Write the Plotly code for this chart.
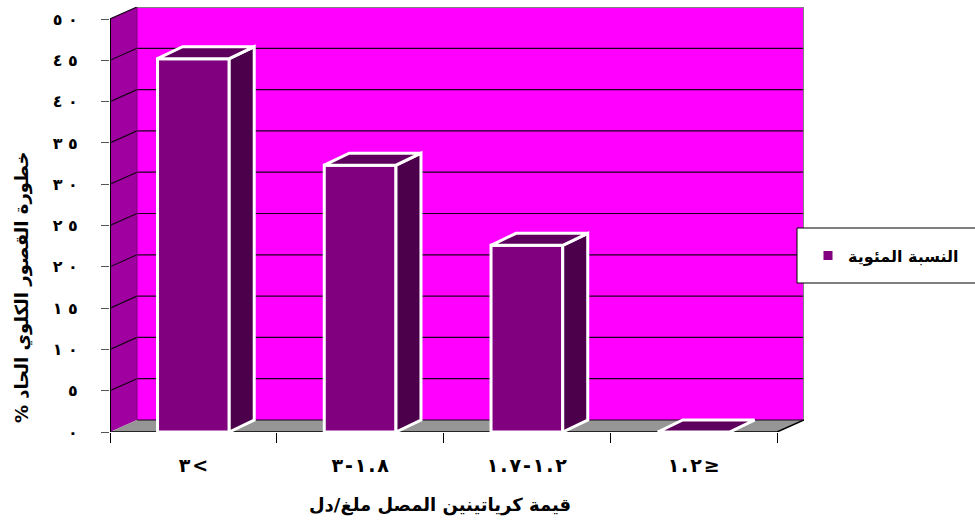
import plotly.graph_objects as go

# ---------------- data ----------------
categories = ["٣<", "٣-١.٨", "١.٧-١.٢", "١.٢≥"]
values = [45.2, 32.3, 22.6, 0.0]
y_ticks = [0, 5, 10, 15, 20, 25, 30, 35, 40, 45, 50]
y_tick_labels = ["٠", "٥", "١٠", "١٥", "٢٠", "٢٥", "٣٠", "٣٥", "٤٠", "٤٥", "٥٠"]
series_name = "النسبة المئوية"
x_title = "قيمة كرياتينين المصل ملغ/دل"
y_title = "% خطورة القصور الكلوي الحاد"


def visual(s, gap):
    # keep left-to-right visual order as in the reference, with a little letter spacing
    return "\u202d" + gap.join(list(s)) + "\u202c"


# ---------------- geometry / style ----------------
W, H = 975, 530
ML, MT = 110, 7
PX_CAT = 166.75          # pixels per category
PX_UNIT = 8.26           # pixels per y unit
DEPTH_PX = (27, 12)      # oblique depth of walls
BAR_DEPTH_PX = (25, 12)
n = len(categories)
plot_w = n * PX_CAT + DEPTH_PX[0]
plot_h = y_ticks[-1] * PX_UNIT + DEPTH_PX[1]
MR = W - ML - plot_w
MB = H - MT - plot_h

x0, x1 = -0.5, n - 0.5
ytop = y_ticks[-1]
DX = DEPTH_PX[0] / PX_CAT
DY = DEPTH_PX[1] / PX_UNIT
BDX = BAR_DEPTH_PX[0] / PX_CAT
BDY = BAR_DEPTH_PX[1] / PX_UNIT
BAR_W = 0.43

FONT = "DejaVu Sans"
BACK = "#FF00FF"
SIDEWALL = "#A000A0"
FLOOR = "#969696"
BAR_FRONT = "#800080"
BAR_SIDE = "#4C004C"
BAR_TOP = "#5E005E"


def poly(pts):
    return "M " + " L ".join(f"{x},{y}" for x, y in pts) + " Z"


shapes = []
# back wall
shapes.append(dict(type="rect", xref="x", yref="y", x0=x0 + DX, x1=x1 + DX, y0=DY, y1=ytop + DY,
                   fillcolor=BACK, line=dict(width=0), layer="below"))
# left wall
shapes.append(dict(type="path", xref="x", yref="y",
                   path=poly([(x0, 0), (x0, ytop), (x0 + DX, ytop + DY), (x0 + DX, DY)]),
                   fillcolor=SIDEWALL, line=dict(width=0), layer="below"))
# floor
shapes.append(dict(type="path", xref="x", yref="y",
                   path=poly([(x0, 0), (x1, 0), (x1 + DX, DY), (x0 + DX, DY)]),
                   fillcolor=FLOOR, line=dict(width=0), layer="below"))
# gridlines on back wall and left wall
for v in y_ticks:
    col = "#808080" if v == ytop else "#1a001a"
    wid = 2 if v == ytop else 1.2
    shapes.append(dict(type="line", xref="x", yref="y", x0=x0 + DX, x1=x1 + DX, y0=v + DY, y1=v + DY,
                       line=dict(color=col, width=wid), layer="below"))
    if v > 0:
        shapes.append(dict(type="line", xref="x", yref="y", x0=x0, x1=x0 + DX, y0=v, y1=v + DY,
                           line=dict(color="#1a001a", width=1.2), layer="below"))
# back wall right edge and left-back edge
shapes.append(dict(type="line", xref="x", yref="y", x0=x1 + DX, x1=x1 + DX, y0=DY, y1=ytop + DY,
                   line=dict(color="#808080", width=2), layer="below"))
shapes.append(dict(type="line", xref="x", yref="y", x0=x0 + DX, x1=x0 + DX, y0=DY, y1=ytop + DY,
                   line=dict(color="#7a007a", width=1), layer="below"))
# floor front and right edges
shapes.append(dict(type="path", xref="x", yref="y",
                   path="M %s,0 L %s,0 L %s,%s" % (x0, x1, x1 + DX, DY),
                   line=dict(color="#000000", width=1.5), layer="below"))
# value axis line
shapes.append(dict(type="line", xref="x", yref="y", x0=x0, x1=x0, y0=0, y1=ytop,
                   line=dict(color="#000000", width=2), layer="below"))

# legend box
lg_left, lg_top, lg_bot = 797, 228, 283
shapes.append(dict(type="rect", xref="paper", yref="paper",
                   x0=(lg_left - ML) / plot_w, x1=(W + 10 - ML) / plot_w,
                   y0=(MT + plot_h - lg_bot) / plot_h, y1=(MT + plot_h - lg_top) / plot_h,
                   fillcolor="white", line=dict(color="#000000", width=1), layer="above"))

fig = go.Figure()

# bar front faces
xs = list(range(n))
fig.add_trace(go.Bar(x=xs, y=values, width=BAR_W, name=series_name,
                     marker=dict(color=BAR_FRONT, line=dict(color="white", width=3)),
                     showlegend=True, hoverinfo="skip"))

# side and top faces computed from the values
side_x, side_y, top_x, top_y = [], [], [], []
for i, v in zip(xs, values):
    r = i + BAR_W / 2
    l = i - BAR_W / 2
    side_x += [r, r, r + BDX, r + BDX, r, None]
    side_y += [0, v, v + BDY, BDY, 0, None]
    top_x += [l, r, r + BDX, l + BDX, l, None]
    top_y += [v, v, v + BDY, v + BDY, v, None]

fig.add_trace(go.Scatter(x=side_x, y=side_y, mode="lines", fill="toself", fillcolor=BAR_SIDE,
                         line=dict(color="white", width=3), showlegend=False, hoverinfo="skip"))
fig.add_trace(go.Scatter(x=top_x, y=top_y, mode="lines", fill="toself", fillcolor=BAR_TOP,
                         line=dict(color="white", width=3), showlegend=False, hoverinfo="skip"))

fig.update_layout(
    width=W, height=H,
    margin=dict(l=ML, r=MR, t=MT, b=MB, pad=0),
    paper_bgcolor="white", plot_bgcolor="white",
    shapes=shapes,
    showlegend=True,
    legend=dict(x=(808 - ML) / plot_w, y=(MT + plot_h - 255.5) / plot_h, xanchor="left", yanchor="middle",
                bgcolor="rgba(0,0,0,0)", borderwidth=0,
                font=dict(family=FONT, size=16, color="black", weight="bold")),
    xaxis=dict(range=[x0, x1 + DX], tickmode="array", tickvals=xs,
               ticktext=[visual(c, "\u200a") for c in categories],
               ticks="", showgrid=False, zeroline=False, showline=False,
               ticklabelstandoff=20,
               tickfont=dict(family=FONT, size=19, color="black", weight="bold"),
               minor=dict(tickmode="array", tickvals=[i - 0.5 for i in range(n + 1)],
                          ticks="outside", ticklen=10, tickwidth=1, tickcolor="black", showgrid=False),
               fixedrange=True),
    yaxis=dict(range=[0, ytop + DY], tickmode="array", tickvals=y_ticks,
               ticktext=[visual(t, " ") for t in y_tick_labels],
               ticks="outside", ticklen=8, tickwidth=1, tickcolor="#555555",
               showgrid=False, zeroline=False, showline=False,
               ticklabelstandoff=20,
               tickfont=dict(family=FONT, size=16, color="black", weight="bold"),
               fixedrange=True),
    annotations=[
        dict(text=x_title, xref="paper", yref="paper", x=(440 - ML) / plot_w, y=-(505 - MT - plot_h) / plot_h,
             showarrow=False, xanchor="center", yanchor="middle",
             font=dict(family=FONT, size=18, color="black", weight="bold")),
        dict(text=y_title, xref="paper", yref="paper", x=(22 - ML) / plot_w, y=(MT + plot_h - 287) / plot_h,
             textangle=-90, showarrow=False, xanchor="center", yanchor="middle",
             font=dict(family=FONT, size=18, color="black", weight="bold")),
    ],
)

fig.write_html("out.html", config={"displayModeBar": False},
               post_script="document.body.style.margin='0px';")
